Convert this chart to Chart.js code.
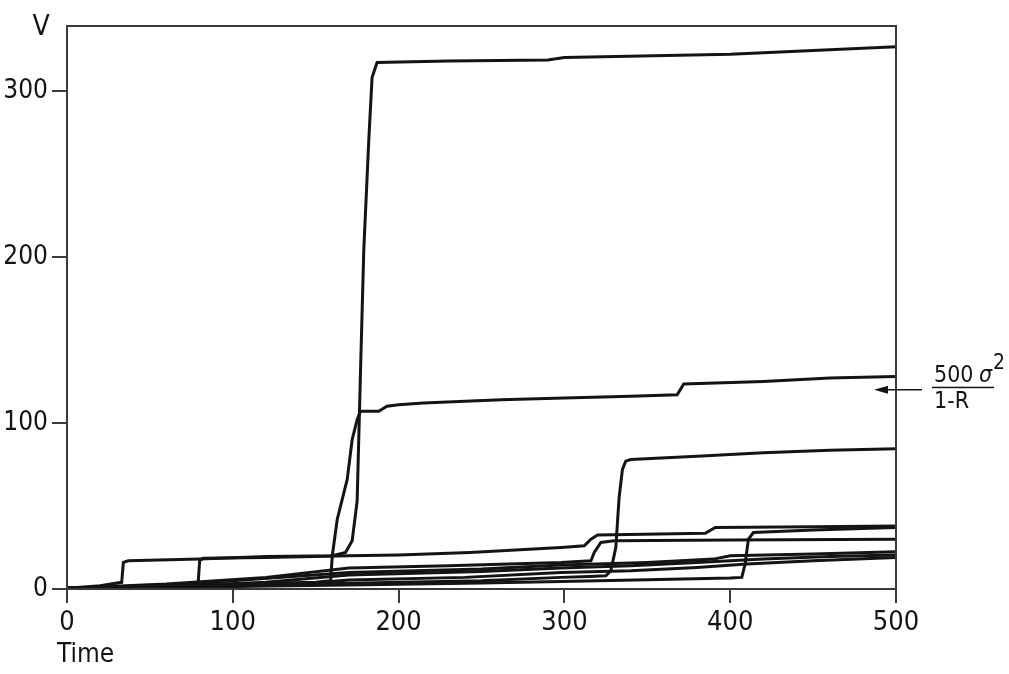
<!DOCTYPE html>
<html>
<head>
<meta charset="utf-8">
<script src="https://cdn.jsdelivr.net/npm/chart.js@4/dist/chart.umd.min.js"></script>
<style>
  html, body { margin: 0; padding: 0; background: #fff; }
  #wrap { width: 1009px; height: 674px; }
</style>
</head>
<body>
<div id="wrap"><canvas id="chart"></canvas></div>
<script>
// tick values
const xTicks = [0, 100, 200, 300, 400, 500];
const yTicks = [0, 100, 200, 300];

// each run: [time, V]
const runTop = [[0,0.5],[20,2],[33,4],[34,16],[37,17],[80,18],[120,19.5],[160,20],[168,22],[172,29],[175,53],[177,130],[179,204],[182,270],[184,308],[187,317],[230,318],[290,318.5],[300,320],[400,322],[500,326.5]];
const runMid = [[0,0.5],[50,2],[100,3],[150,4],[159,5],[160,20],[163,42],[169,66],[172,90],[175,102],[177,107],[188,107],[193,110],[200,111],[215,112],[240,113],[262,114],[300,115],[340,116],[368,117],[372,123.5],[420,125],[460,127],[500,128]];
const runLate = [[0,0.5],[50,1.5],[100,2.5],[170,3.5],[250,5],[298,7],[315,7.5],[325,8],[328,11],[331,25],[333,55],[335,72],[337,77],[340,78],[380,80],[420,82],[460,83.5],[500,84.5]];
const runForty = [[0,0.5],[40,1],[79,2],[80,17],[82,18.5],[120,19],[170,20],[200,20.5],[243,22],[298,25],[312,26],[316,30],[320,32.5],[385,33.5],[391,37],[450,37.5],[500,38]];
const runStep = [[0,0.3],[100,1.5],[170,2.4],[250,3.6],[298,4.5],[350,5.5],[400,6.6],[407,7],[409,15],[411,30],[414,34],[450,35.5],[500,37]];
const runThirty = [[0,0.5],[60,3],[120,7],[170,12.6],[230,14],[298,16],[316,17],[318,22],[322,28],[330,29],[400,29.5],[500,30]];
const runA = [[0,0.5],[50,2],[100,5],[170,10],[250,12],[298,14.5],[350,16],[390,18],[400,20],[450,21],[500,22.5]];
const runB = [[0,0.3],[60,1.5],[120,4],[170,8.4],[250,10.5],[298,12.6],[340,14],[380,16],[420,18],[460,19.5],[500,20.5]];
const runC = [[0,0.2],[80,1],[140,3],[170,5.4],[240,7],[298,10],[340,11],[380,13],[410,15],[450,17],[500,19]];

const runs = [runTop, runMid, runLate, runForty, runStep, runThirty, runA, runB, runC];

const FONT = '"DejaVu Sans Condensed", "Liberation Sans Narrow", "DejaVu Sans", sans-serif';
const INK = '#141414';
const FRAME = '#3a3a3a';

const extras = {
  id: 'extras',
  afterDraw(chart) {
    const { ctx, chartArea: a, scales } = chart;
    ctx.save();
    // closing the frame
    ctx.strokeStyle = FRAME;
    ctx.lineWidth = 2;
    ctx.strokeRect(a.left, a.top, a.right - a.left, a.bottom - a.top);

    ctx.fillStyle = INK;
    ctx.font = '28px ' + FONT;
    ctx.textBaseline = 'middle';
    ctx.textAlign = 'center';
    ctx.fillText('V', 41, 28);
    ctx.font = '26px ' + FONT;
    ctx.textAlign = 'left';
    ctx.fillText('Time', 57, 655);

    // arrow and label
    const ay = scales.y.getPixelForValue(120);
    ctx.strokeStyle = INK;
    ctx.lineWidth = 1.5;
    ctx.beginPath();
    ctx.moveTo(a.right + 26, ay);
    ctx.lineTo(a.right - 18, ay);
    ctx.stroke();
    ctx.beginPath();
    ctx.moveTo(a.right - 22, ay);
    ctx.lineTo(a.right - 8, ay - 4);
    ctx.lineTo(a.right - 8, ay + 4);
    ctx.closePath();
    ctx.fill();

    const tx = a.right + 38;
    ctx.font = '23px ' + FONT;
    ctx.textBaseline = 'alphabetic';
    ctx.fillText('500', tx, ay - 8);
    ctx.font = 'italic 23px ' + FONT;
    ctx.fillText('σ', tx + 45, ay - 8);
    ctx.font = '21px ' + FONT;
    ctx.fillText('2', tx + 59, ay - 21);
    ctx.fillRect(tx - 2, ay - 3, 62, 1.5);
    ctx.font = '23px ' + FONT;
    ctx.textBaseline = 'top';
    ctx.fillText('1-R', tx, ay + 1);
    ctx.restore();
  }
};

new Chart(document.getElementById('chart'), {
  type: 'line',
  data: {
    datasets: runs.map(r => ({
      data: r.map(p => ({ x: p[0], y: p[1] })),
      borderColor: INK,
      borderWidth: 3,
      pointRadius: 0,
      tension: 0,
      fill: false
    }))
  },
  options: {
    responsive: true,
    maintainAspectRatio: false,
    animation: false,
    events: [],
    layout: { padding: { top: 26, right: 113, left: 0, bottom: 0 } },
    plugins: { legend: { display: false }, tooltip: { enabled: false } },
    scales: {
      x: {
        type: 'linear',
        min: 0,
        max: 500,
        afterBuildTicks: s => { s.ticks = xTicks.map(v => ({ value: v })); },
        afterFit: s => { s.height = 85; },
        grid: { drawOnChartArea: false, drawTicks: true, tickLength: 14, color: FRAME, lineWidth: 2 },
        border: { display: true, color: FRAME, width: 2 },
        ticks: { color: INK, padding: 4, maxRotation: 0, font: { family: FONT, size: 27 } }
      },
      y: {
        type: 'linear',
        min: 0,
        max: 339,
        afterBuildTicks: s => { s.ticks = yTicks.map(v => ({ value: v })); },
        afterFit: s => { s.width = 67; },
        grid: { drawOnChartArea: false, drawTicks: true, tickLength: 15, color: FRAME, lineWidth: 2 },
        border: { display: true, color: FRAME, width: 2 },
        ticks: { color: INK, padding: 4, font: { family: FONT, size: 26 } }
      }
    }
  },
  plugins: [extras]
});
</script>
</body>
</html>
